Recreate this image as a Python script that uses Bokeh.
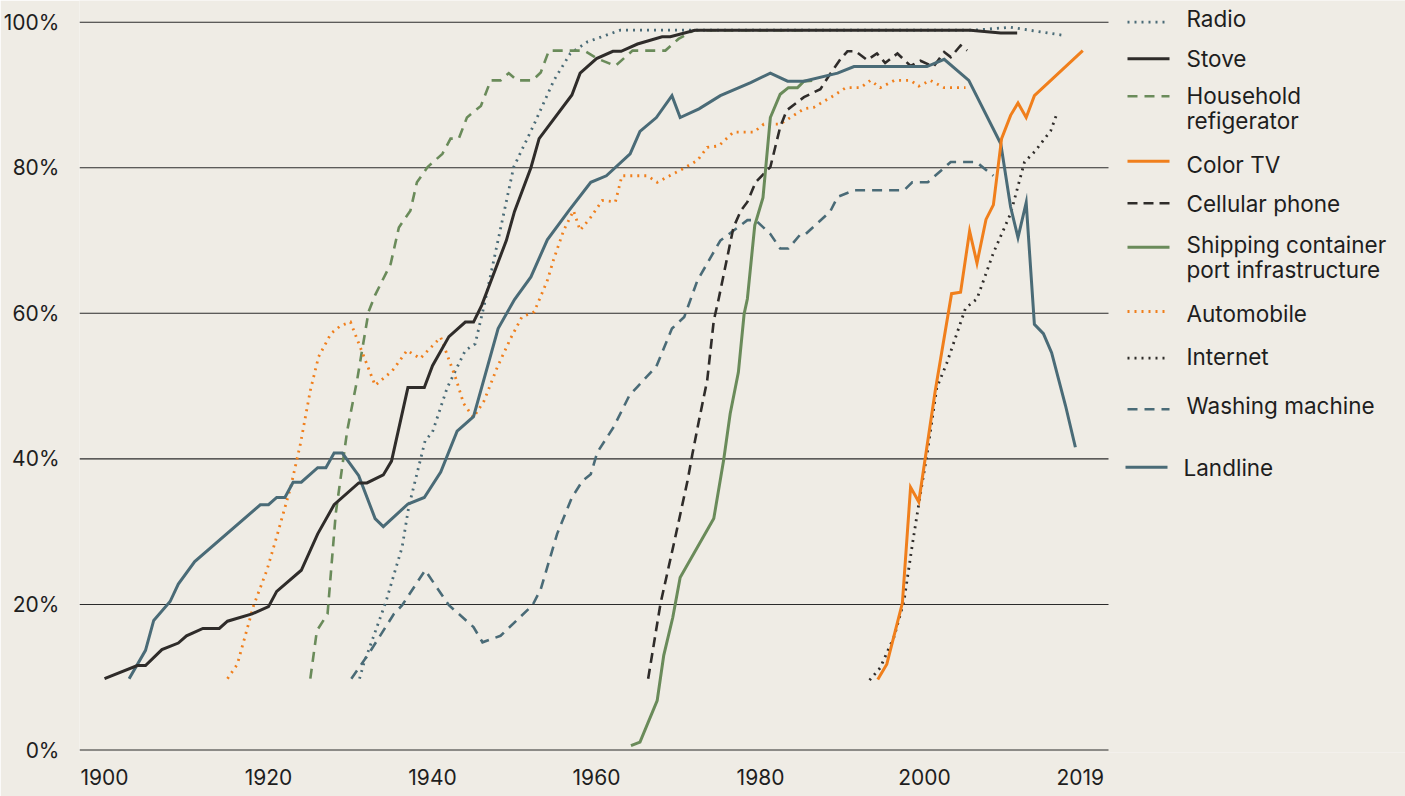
from bokeh.plotting import figure
from bokeh.models import Range1d, FixedTicker, PrintfTickFormatter
from bokeh.core.properties import value
from bokeh.embed import file_html
from bokeh.resources import INLINE

# ---------------- data (share of US households, %) ----------------
radio_year = [1931.1, 1931.6, 1934.3, 1936.3, 1937.1, 1939.1, 1940, 1941.8, 1944, 1945.2, 1946.3,
              1949.9, 1952.4, 1954.8, 1956.8, 1958.9, 1962.9, 2006, 2010.5, 2016.9]
radio_val = [9.8, 11.8, 20.3, 27.9, 33.4, 42.5, 43.7, 49.8, 54.9, 55.8, 61.1,
             80.1, 86, 92, 95.7, 97.3, 98.9, 98.9, 99.3, 98.2]

stove_year = [1900, 1904, 1905, 1907, 1909, 1910, 1912, 1914, 1915, 1918, 1920, 1921, 1924, 1926,
              1928, 1931, 1932, 1934, 1935, 1937, 1939, 1940, 1942, 1944, 1945, 1946, 1949, 1950,
              1952, 1953, 1957, 1958, 1960, 1962, 1963, 1965, 1968, 1969, 1972, 2005.6, 2009.3, 2011.3]
stove_val = [9.8, 11.6, 11.6, 13.8, 14.7, 15.7, 16.7, 16.7, 17.7, 18.7, 19.7, 21.8, 24.7, 29.7,
             33.7, 36.7, 36.7, 37.8, 39.7, 49.8, 49.8, 52.8, 56.8, 58.8, 58.8, 61.1, 70, 74,
             80, 84, 90, 93, 95, 96, 96, 97, 98, 98, 98.9, 98.9, 98.5, 98.5]

fridge_year = [1925.1, 1925.9, 1927.2, 1928.2, 1929.6, 1930.8, 1932.2, 1933, 1934.9, 1935.9, 1937.3,
               1938.1, 1939.4, 1941.2, 1942.2, 1943.2, 1944.2, 1945.9, 1947.1, 1948.3, 1949.3,
               1950.3, 1952.2, 1953.2, 1954.2, 1958.5, 1960.1, 1962.3, 1964.4, 1968.4, 1970, 1971.9, 1985]
fridge_val = [9.8, 16.4, 18.7, 32.5, 43.9, 50.8, 60.2, 62.5, 66.8, 71.8, 74.1,
              78, 80.1, 81.9, 84, 84, 86.9, 88.5, 92, 92, 93,
              92, 92, 93.1, 96.1, 96.1, 95, 94, 96.1, 96.1, 97.7, 98.9, 98.9]

colortv_year = [1994.3, 1995.4, 1997.3, 1998.3, 1999.3, 2001.3, 2003.3, 2004.4, 2005.5, 2006.4,
                2007.5, 2008.4, 2009.4, 2010.5, 2011.4, 2012.4, 2013.4, 2019.3]
colortv_val = [9.7, 11.8, 20.2, 36.1, 34.1, 49.3, 62.7, 62.9, 71.3, 66.9,
               72.9, 74.9, 84, 87.2, 88.9, 86.9, 89.9, 96.1]

cell_year = [1966.3, 1967.8, 1969.6, 1971.1, 1971.7, 1972.5, 1973.5, 1974.3, 1974.9, 1976.7, 1977.6,
             1978.4, 1979.4, 1981.2, 1982.4, 1983.2, 1985.3, 1987.3, 1988.5, 1989.8, 1990.6, 1991.6,
             1993, 1994.2, 1995.2, 1996.7, 1998.3, 1999.5, 2001.1, 2002.4, 2003.2, 2004.4, 2005.2]
cell_val = [9.8, 20.1, 29.2, 37, 40.7, 45.3, 50.8, 59, 62, 71.8, 74.1,
            75.3, 78, 80.1, 85.6, 87.9, 89.7, 90.8, 92.9, 95, 96, 96,
            94.8, 95.7, 94.4, 95.7, 94, 94.7, 93.9, 95.9, 95.2, 96.8, 96.1]

ship_year = [1964.2, 1965.3, 1967.4, 1968.2, 1969.3, 1970.2, 1974.3, 1975.5, 1976.3, 1977.3, 1978,
             1978.4, 1979.3, 1980.3, 1981.2, 1982.4, 1983.4, 1984.5, 1985.3, 1986.3]
ship_val = [0.6, 1.1, 6.8, 13, 18.2, 23.7, 31.8, 39.8, 46.2, 51.9, 59.9,
            62, 72.1, 75.9, 86.9, 90.1, 91, 91, 91.9, 92]

auto_year = [1915, 1916.2, 1918.2, 1919.8, 1921.1, 1922.7, 1923.9, 1925.1, 1926.1, 1927.6, 1928.8,
             1930, 1931.2, 1933, 1935.1, 1936.9, 1938.5, 1941, 1942.8, 1943.8, 1945, 1946.3, 1947.9,
             1949.5, 1950.9, 1952.4, 1954, 1954.8, 1956, 1957.2, 1958, 1959.3, 1960.7, 1962.3, 1963.1,
             1966.2, 1967.4, 1970.6, 1972.3, 1973.5, 1974.9, 1976.7, 1979.2, 1980.4, 1982.4, 1985.3,
             1986.5, 1988.9, 1990.4, 1992.2, 1993.4, 1994.6, 1996.3, 1998.3, 1999.3, 2000.7, 2002.4, 2005]
auto_val = [9.8, 11.8, 19.9, 24.7, 29.7, 36.1, 42.1, 49.4, 54, 57.2, 58.3,
            58.8, 55.3, 50.1, 52.1, 54.9, 53.8, 56.7, 51.2, 47.6, 45.7, 48, 52.6,
            56.5, 59.5, 60.2, 64.5, 67.5, 71.4, 74.1, 71.4, 73.2, 75.5, 75.3, 78.9,
            78.9, 78, 79.9, 81, 82.8, 83, 84.9, 84.9, 86, 86, 88.1,
            88.3, 89.9, 91, 91, 92, 91, 92, 92, 91.2, 92, 91, 91]

internet_year = [1993.3, 1994.6, 1996.3, 1997.5, 1998.5, 1999.5, 2000.3, 2001.5, 2002.7, 2005,
                 2006.4, 2008.4, 2010.5, 2012.2, 2013.5, 2015.4, 2016.2]
internet_val = [9.6, 11.3, 15.6, 20.5, 28.1, 35.2, 40.6, 49.8, 53.1, 60.7,
                62, 68.3, 73.7, 80.8, 82.3, 85.1, 87.6]

washer_year = [1930.1, 1932.2, 1935.3, 1936.3, 1939.1, 1942, 1945, 1946.1, 1948.3, 1952.2, 1953.2,
               1955.2, 1957, 1958.3, 1959.3, 1960.1, 1962.1, 1964, 1964.9, 1967.3, 1969.2, 1970.7,
               1972.3, 1975.1, 1978.4, 1979.4, 1981.2, 1982.4, 1983.4, 1984.9, 1985.5, 1988.5,
               1989.4, 1991.4, 1997.5, 1998.5, 2000.4, 2003.2, 2006.3, 2008.4]
washer_val = [9.8, 13.2, 18.7, 19.9, 24.7, 19.9, 16.9, 14.8, 15.7, 19.9, 22.1,
              29.7, 34.7, 37, 37.9, 40.9, 44.4, 48.7, 49.8, 52.7, 57.9, 59.5,
              64.5, 70, 72.8, 72.8, 70.9, 68.9, 68.9, 70.9, 70.9, 74,
              76, 76.9, 76.9, 78, 78, 80.8, 80.8, 78.9]

landline_year = [1903, 1905, 1906, 1908, 1909, 1911, 1919, 1920, 1921, 1922, 1923, 1924, 1926, 1927,
                 1928, 1929, 1931, 1933, 1934, 1937, 1939, 1941, 1943, 1945, 1948, 1950, 1952, 1954,
                 1956.7, 1959.3, 1961.2, 1964.1, 1965.3, 1967.3, 1969.2, 1970.2, 1972.5, 1975.1,
                 1978.8, 1981.2, 1983.3, 1985.3, 1989.4, 1991.4, 2000.3, 2002.4, 2005.4, 2009.3,
                 2010.5, 2011.4, 2012.4, 2013.4, 2014.5, 2015.5, 2017.2, 2018.4]
landline_val = [9.8, 13.7, 17.8, 20.4, 22.8, 25.9, 33.7, 33.7, 34.7, 34.7, 36.8, 36.8, 38.8, 38.8,
                40.8, 40.8, 37.7, 31.8, 30.7, 33.8, 34.7, 38.2, 43.8, 45.8, 57.9, 61.9, 65, 70.1,
                74.2, 78, 78.9, 81.9, 85, 86.9, 89.9, 86.9, 88.1, 89.9,
                91.7, 93, 91.9, 91.9, 93, 93.9, 93.9, 94.9, 92, 83.3,
                74.6, 70.4, 75.2, 58.5, 57.2, 54.6, 47.3, 41.6]

x_ticks = [1900, 1920, 1940, 1960, 1980, 2000, 2019]
y_ticks = [0, 20, 40, 60, 80, 100]

# ---------------- style ----------------
BG = "#efece5"
SLATE = "#4a6b77"
DARK = "#2f2c2a"
GREEN = "#6a8b5a"
ORANGE = "#f07f1c"
TEXT = "#1e1e1e"
FONT = "Inter"

series = [
    (["Washing machine"], washer_year, washer_val, SLATE, "10 7", 2.6),
    (["Radio"], radio_year, radio_val, SLATE, "2 5", 2.8),
    (["Household", "refigerator"], fridge_year, fridge_val, GREEN, "10 7", 2.6),
    (["Automobile"], auto_year, auto_val, ORANGE, "2 5", 2.8),
    (["Internet"], internet_year, internet_val, DARK, "2 5", 2.8),
    (["Cellular phone"], cell_year, cell_val, DARK, "10 6", 2.6),
    (["Shipping container", "port infrastructure"], ship_year, ship_val, GREEN, "solid", 3),
    (["Landline"], landline_year, landline_val, SLATE, "solid", 3),
    (["Stove"], stove_year, stove_val, DARK, "solid", 3),
    (["Color TV"], colortv_year, colortv_val, ORANGE, "solid", 3),
]

# geometry (page pixels)
FRAME_L, FRAME_R, FRAME_T, FRAME_B = 79, 1405, 0, 752
GRID_END_PX = 1108
PX_PER_YEAR = 8.2
X0 = 1896.95                     # year at the left edge of the frame
X1 = X0 + (FRAME_R - FRAME_L) / PX_PER_YEAR
GRID_END = X0 + (GRID_END_PX - FRAME_L) / PX_PER_YEAR
Y0, Y1 = -0.34, 102.98

p = figure(frame_width=FRAME_R - FRAME_L, frame_height=FRAME_B - FRAME_T,
           x_range=Range1d(X0, X1), y_range=Range1d(Y0, Y1),
           output_backend="svg", toolbar_location=None,
           min_border_left=FRAME_L, min_border_right=0, min_border_top=0, min_border_bottom=44,
           background_fill_color=BG, border_fill_color=BG, outline_line_color=None)
p.extra_x_ranges = {"px": Range1d(FRAME_L, FRAME_R)}
p.extra_y_ranges = {"px": Range1d(FRAME_B, FRAME_T)}

p.xgrid.visible = False
p.ygrid.visible = False
# horizontal reference lines, stopping before the legend
p.segment(x0=[X0] * len(y_ticks), y0=y_ticks, x1=[GRID_END] * len(y_ticks), y1=y_ticks,
          line_color="#2b2b2b", line_width=1.1)

p.xaxis.ticker = FixedTicker(ticks=x_ticks)
p.yaxis.ticker = FixedTicker(ticks=y_ticks)
p.yaxis.formatter = PrintfTickFormatter(format="%d%%")
for ax in (p.xaxis[0], p.yaxis[0]):
    ax.axis_line_color = None
    ax.major_tick_line_color = None
    ax.minor_tick_line_color = None
    ax.major_tick_out = 0
    ax.major_tick_in = 0
    ax.minor_tick_out = 0
    ax.major_label_text_font = FONT
    ax.major_label_text_font_size = "21px"
    ax.major_label_text_color = TEXT
p.xaxis.major_label_standoff = 16
p.yaxis.major_label_standoff = 20

for labels, xs, ys, col, dash, w in series:
    p.line(xs, ys, line_color=col, line_width=w, line_dash=dash, line_join="miter")

# ---------------- legend (drawn in page-pixel coordinates) ----------------
legend_order = ["Radio", "Stove", "Household", "Color TV", "Cellular phone",
                "Shipping container", "Automobile", "Internet", "Washing machine", "Landline"]
legend_line_y = [21.7, 58.3, 95.7, 160.7, 202.7, 246.7, 311, 357.7, 408.7, 466.7]
legend_text_y = [18, 57.5, 95, 164, 202.5, 244, 313, 355.5, 405, 467]
by_first = {s[0][0]: s for s in series}
for name, ly, ty in zip(legend_order, legend_line_y, legend_text_y):
    labels, xs, ys, col, dash, w = by_first[name]
    x0 = 1125 if name == "Landline" else 1127
    p.line([x0, x0 + 42], [ly, ly], line_color=col, line_width=w, line_dash=dash,
           x_range_name="px", y_range_name="px")
    tx = 1183 if name == "Landline" else 1186
    for i, lab in enumerate(labels):
        p.text(x=[tx], y=[ty + 25 * i], text=[lab], text_font=value(FONT),
               text_font_size="22.5px", text_baseline="middle", text_align="left",
               text_color=TEXT, x_range_name="px", y_range_name="px")

open("out.html", "w").write(file_html(p, INLINE))
